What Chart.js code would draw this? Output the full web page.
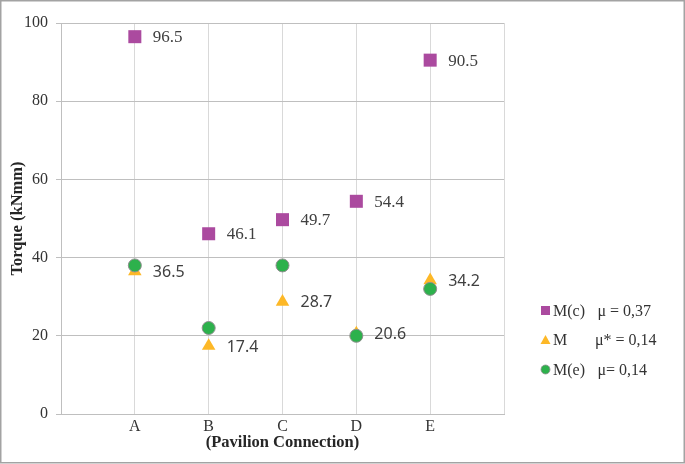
<!DOCTYPE html>
<html>
<head>
<meta charset="utf-8">
<script src="https://cdn.jsdelivr.net/npm/chart.js@4/dist/chart.umd.min.js"></script>
<style>
html,body{margin:0;padding:0;background:#fff;}
#wrap{width:685px;height:464px;position:relative;}
</style>
</head>
<body>
<div id="wrap"><canvas id="c" width="685" height="464"></canvas></div>
<script>
const categories = ['A', 'B', 'C', 'D', 'E'];
const mcValues = [96.5, 46.1, 49.7, 54.4, 90.5];
const mValues = [36.5, 17.4, 28.7, 20.6, 34.2];
const meValues = [38, 22, 38, 20, 32];
const yTicks = [0, 20, 40, 60, 80, 100];
const seriesNames = ['M(c)', 'M', 'M(e)'];
const frictionLabels = ['μ = 0,37', 'μ* = 0,14', 'μ= 0,14'];
const yTitle = 'Torque (kNmm)';
const xTitle = '(Pavilion Connection)';

const SERIF = '"Liberation Serif", "Times New Roman", serif';
const SANS = '"Noto Sans", "Open Sans", sans-serif';
const COL_MC = '#ab4a9f';
const COL_M = '#fdb827';
const COL_ME = '#2db14c';

function toPoints(vals) { return vals.map((v, i) => ({ x: i + 1, y: v })); }

const bgPlugin = {
  id: 'bg',
  beforeDraw(chart) {
    const ctx = chart.ctx;
    ctx.save();
    ctx.fillStyle = '#fff';
    ctx.fillRect(0, 0, chart.width, chart.height);
    ctx.restore();
  },
  afterDraw(chart) {
    const ctx = chart.ctx;
    ctx.save();
    ctx.strokeStyle = '#a3a3a3';
    ctx.lineWidth = 1.5;
    ctx.strokeRect(0.75, 0.75, 683.5, 462);
    ctx.restore();
  }
};

const labelPlugin = {
  id: 'ptlabels',
  afterDatasetsDraw(chart) {
    const ctx = chart.ctx;
    ctx.save();
    ctx.fillStyle = '#404040';
    ctx.textBaseline = 'middle';
    ctx.textAlign = 'left';
    chart.data.datasets.forEach((ds, di) => {
      if (!ds.showValues) return;
      const meta = chart.getDatasetMeta(di);
      ctx.font = ds.valueFont;
      meta.data.forEach((el, i) => {
        const v = ds.data[i].y;
        ctx.fillText(v.toFixed(1), el.x + 18, el.y + 1);
      });
    });
    ctx.restore();
  }
};

const legendPlugin = {
  id: 'customLegend',
  afterDraw(chart) {
    const ctx = chart.ctx;
    ctx.save();
    const rows = [310.5, 340, 369.5];
    const mx = 545.5;
    chart.data.datasets.forEach((ds, i) => {
      const y = rows[i];
      ctx.fillStyle = ds.backgroundColor;
      if (ds.pointStyle === 'rect') {
        ctx.fillRect(mx - 4.5, y - 4.5, 9, 9);
      } else if (ds.pointStyle === 'triangle') {
        ctx.beginPath();
        ctx.moveTo(mx, y - 5);
        ctx.lineTo(mx + 5, y + 4);
        ctx.lineTo(mx - 5, y + 4);
        ctx.closePath();
        ctx.fill();
      } else {
        ctx.beginPath();
        ctx.arc(mx, y, 4.5, 0, Math.PI * 2);
        ctx.fill();
        ctx.strokeStyle = '#8f8f8f';
        ctx.lineWidth = 0.8;
        ctx.stroke();
      }
      ctx.fillStyle = '#333';
      ctx.font = '16px ' + SERIF;
      ctx.textBaseline = 'middle';
      ctx.textAlign = 'left';
      ctx.fillText(seriesNames[i], 553, y + 1);
      ctx.fillText(frictionLabels[i], i === 1 ? 595 : 597.5, y + 1);
    });
    ctx.restore();
  }
};

new Chart(document.getElementById('c'), {
  type: 'scatter',
  data: {
    datasets: [
      {
        label: seriesNames[0], data: toPoints(mcValues), pointStyle: 'rect',
        backgroundColor: COL_MC, borderColor: COL_MC, borderWidth: 0,
        pointRadius: 9.2, pointHoverRadius: 9.2, order: 3,
        showValues: true, valueFont: '17px ' + SERIF
      },
      {
        label: seriesNames[1], data: toPoints(mValues), pointStyle: 'triangle',
        backgroundColor: COL_M, borderColor: COL_M, borderWidth: 0,
        pointRadius: 7.8, pointHoverRadius: 7.8, order: 2,
        showValues: true, valueFont: '16px ' + SANS
      },
      {
        label: seriesNames[2], data: toPoints(meValues), pointStyle: 'circle',
        backgroundColor: COL_ME, borderColor: '#8f8f8f', borderWidth: 1,
        pointRadius: 6.5, pointHoverRadius: 6.5, order: 1,
        showValues: false
      }
    ]
  },
  options: {
    responsive: false,
    animation: false,
    devicePixelRatio: 1,
    layout: { padding: { left: 2, right: 181, top: 23, bottom: 7 } },
    plugins: { legend: { display: false }, tooltip: { enabled: false } },
    scales: {
      x: {
        type: 'linear', min: 0, max: categories.length + 1,
        afterBuildTicks(scale) {
          scale.ticks = [0].concat(categories.map((c, i) => i + 1), [categories.length + 1]).map(v => ({ value: v }));
        },
        afterFit(scale) { scale.height = 43; },
        ticks: {
          autoSkip: false, maxRotation: 0, padding: 3,
          color: '#333', font: { family: SERIF, size: 16 },
          callback: (v) => categories[v - 1] || ''
        },
        grid: { color: '#d9d9d9', lineWidth: 1, drawTicks: false },
        border: { color: '#bfbfbf', width: 1 },
        title: { display: true, text: xTitle, color: '#262626', font: { family: SERIF, size: 16.5, weight: 'bold' }, padding: { top: 0, bottom: 4 } }
      },
      y: {
        min: 0, max: 100,
        afterBuildTicks(scale) { scale.ticks = yTicks.map(v => ({ value: v })); },
        afterFit(scale) { scale.width = 59; },
        ticks: { padding: 8, color: '#333', font: { family: SERIF, size: 16 } },
        grid: { color: '#bfbfbf', lineWidth: 1, tickLength: 5 },
        border: { color: '#bfbfbf', width: 1 },
        title: { display: true, text: yTitle, color: '#262626', font: { family: SERIF, size: 16.5, weight: 'bold' }, padding: { top: 6, bottom: 0 } }
      }
    }
  },
  plugins: [bgPlugin, labelPlugin, legendPlugin]
});
</script>
</body>
</html>
